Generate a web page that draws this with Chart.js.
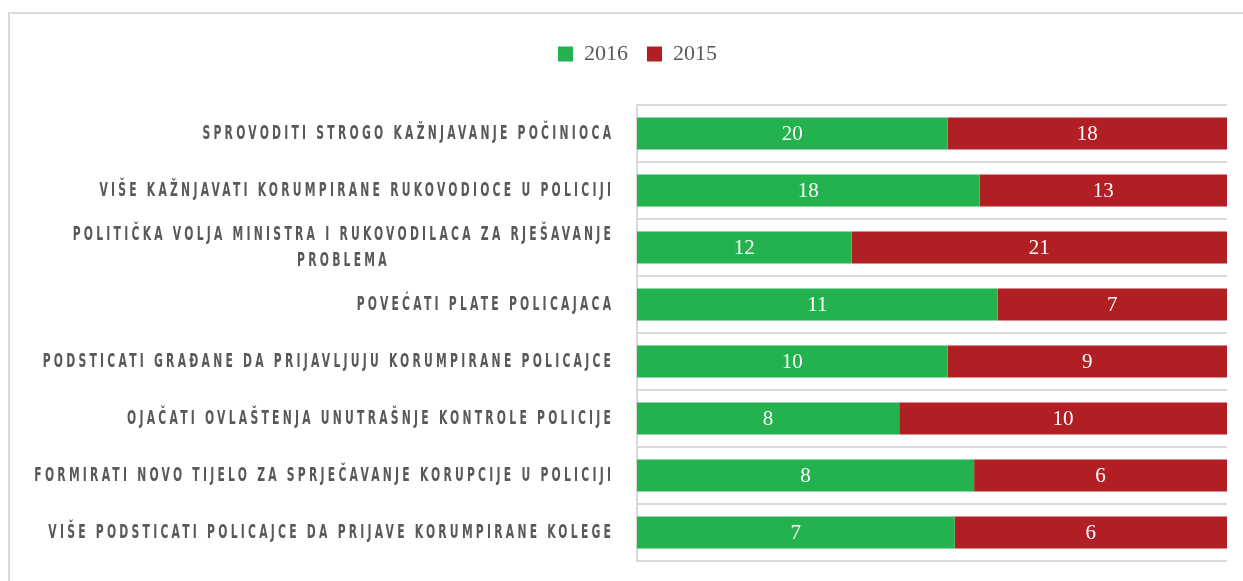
<!DOCTYPE html>
<html>
<head>
<meta charset="utf-8">
<script src="https://cdn.jsdelivr.net/npm/chart.js@4/dist/chart.umd.min.js"></script>
<style>
    html, body { margin: 0; padding: 0; background: #fff; overflow: hidden; }
    #wrap { position: relative; width: 1243px; height: 581px; }
    #frame { position: absolute; left: 8px; top: 12px; width: 1300px; height: 700px; border: 2px solid #d9d9d9; }
    #surveyChart { position: absolute; left: 0; top: 0; }
</style>
</head>
<body>
<div id="wrap">
    <div id="frame"></div>
    <canvas id="surveyChart" width="1243" height="581"></canvas>
</div>
<script>
const categories = [
    ['SPROVODITI STROGO KAŽNJAVANJE POČINIOCA'],
    ['VIŠE KAŽNJAVATI KORUMPIRANE RUKOVODIOCE U POLICIJI'],
    ['POLITIČKA VOLJA MINISTRA I RUKOVODILACA ZA RJEŠAVANJE', 'PROBLEMA'],
    ['POVEĆATI PLATE POLICAJACA'],
    ['PODSTICATI GRAĐANE DA PRIJAVLJUJU KORUMPIRANE POLICAJCE'],
    ['OJAČATI OVLAŠTENJA UNUTRAŠNJE KONTROLE POLICIJE'],
    ['FORMIRATI NOVO TIJELO ZA SPRJEČAVANJE KORUPCIJE U POLICIJI'],
    ['VIŠE PODSTICATI POLICAJCE DA PRIJAVE KORUMPIRANE KOLEGE']
];
const seriesNames = ['2016', '2015'];
const values2016 = [20, 18, 12, 11, 10, 8, 8, 7];
const values2015 = [18, 13, 21, 7, 9, 10, 6, 6];

const GREEN = '#24b24e';
const RED = '#b11e24';
const TEXT_GRAY = '#595959';

// 100% stacked: share of each row, raw counts shown as labels
const totals = values2016.map((v, i) => v + values2015[i]);
const share2016 = values2016.map((v, i) => v / totals[i] * 100);
const share2015 = values2015.map((v, i) => v / totals[i] * 100);
const rawValues = [values2016, values2015];

// category labels: condensed + letter spaced, positioned by the y scale
const categoryLabels = {
    id: 'categoryLabels',
    afterDraw(chart) {
        const ctx = chart.ctx;
        const yScale = chart.scales.y;
        const right = chart.chartArea.left - 26;
        const lineH = 26;
        const sx = 0.6; // horizontal squeeze to mimic a narrow display face
        const spacing = 5.4;
        ctx.save();
        ctx.font = 'bold 20px "DejaVu Sans Condensed", "DejaVu Sans", sans-serif';
        ctx.letterSpacing = spacing + 'px';
        ctx.fillStyle = TEXT_GRAY;
        ctx.textBaseline = 'middle';
        ctx.textAlign = 'center';
        ctx.scale(sx, 1);
        categories.forEach((lines, i) => {
            const yc = yScale.getPixelForValue(i);
            const widths = lines.map(l => ctx.measureText(l).width - spacing);
            const blockW = Math.max(...widths);
            const cx = right / sx - blockW / 2;
            const y0 = yc - (lines.length - 1) * lineH / 2;
            lines.forEach((l, k) => ctx.fillText(l, cx + spacing / 2, y0 + k * lineH));
        });
        ctx.restore();
    }
};

// raw counts in the middle of each segment
const segmentValues = {
    id: 'segmentValues',
    afterDatasetsDraw(chart) {
        const ctx = chart.ctx;
        ctx.save();
        ctx.font = '21px "Liberation Serif", "DejaVu Serif", serif';
        ctx.fillStyle = '#ffffff';
        ctx.textAlign = 'center';
        ctx.textBaseline = 'middle';
        chart.data.datasets.forEach((ds, d) => {
            chart.getDatasetMeta(d).data.forEach((bar, i) => {
                const cx = (bar.x + bar.base) / 2;
                ctx.fillText(String(rawValues[d][i]), cx, bar.y + 1);
            });
        });
        ctx.restore();
    }
};

const ctx = document.getElementById('surveyChart').getContext('2d');
new Chart(ctx, {
    type: 'bar',
    data: {
        labels: categories.map(c => c.join(' ')),
        datasets: [
            { label: seriesNames[0], data: share2016, backgroundColor: GREEN },
            { label: seriesNames[1], data: share2015, backgroundColor: RED }
        ]
    },
    options: {
        indexAxis: 'y',
        responsive: false,
        animation: false,
        layout: { padding: { top: 24, right: 16, bottom: 20, left: 48 } },
        datasets: {
            bar: { barPercentage: 1, categoryPercentage: 0.56, borderWidth: 0 }
        },
        scales: {
            x: {
                stacked: true, min: 0, max: 100, position: 'top',
                ticks: { display: false },
                grid: { display: false },
                border: { display: false },
                afterFit(scale) { scale.height = 30; }
            },
            y: {
                stacked: true,
                ticks: { display: false },
                grid: { color: '#d9d9d9', lineWidth: 2, offset: true, drawTicks: false },
                border: { color: '#d9d9d9', width: 2 },
                afterFit(scale) { scale.width = 637 - 48; }
            }
        },
        plugins: {
            legend: {
                position: 'top',
                labels: {
                    boxWidth: 15,
                    boxHeight: 15,
                    padding: 19,
                    color: TEXT_GRAY,
                    font: { family: '"Liberation Serif", "DejaVu Serif", serif', size: 22 }
                }
            },
            tooltip: { enabled: false }
        }
    },
    plugins: [categoryLabels, segmentValues]
});
</script>
</body>
</html>
